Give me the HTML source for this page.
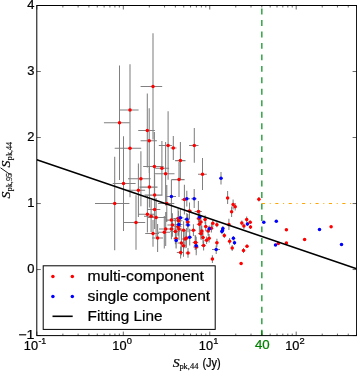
<!DOCTYPE html>
<html><head><meta charset="utf-8"><title>plot</title>
<style>html,body{margin:0;padding:0;background:#fff;}svg{display:block;will-change:transform;}text{font-family:"Liberation Sans",sans-serif;fill:#000;stroke:#000;stroke-width:0.22px;}.se{font-family:"Liberation Serif",serif;}</style></head>
<body>
<svg width="357" height="371" viewBox="0 0 357 371">
<rect x="0" y="0" width="357" height="371" fill="#fff"/>
<defs><clipPath id="cp"><rect x="36.8" y="5.5" width="319.8" height="330.1"/></clipPath></defs>
<g clip-path="url(#cp)">
<path d="M140.6 86.4H162.2M153.0 33.2V139.6M119.2 109.9H138.6M130.0 64.2V155.6M103.9 122.8H129.4M119.5 65.6V180.0M114.7 148.3H141.2M130.0 99.3V197.3M138.2 130.5H154.9M147.3 93.5V167.5M140.6 140.7H156.9M149.2 108.3V173.1M158.8 145.5H171.9M168.1 111.2V179.8M170.5 148.0H176.5M173.3 136.1V159.9M175.1 160.6H185.5M180.4 142.1V179.1M189.1 145.5H198.5M194.3 128.0V162.7M198.0 174.2H206.8M202.5 158.1V190.0M171.3 179.6H184.6M179.0 162.0V197.0M112.7 183.5H135.6M123.5 136.2V231.0M95.0 203.5H129.4M114.7 156.8V250.2M143.2 166.4H163.6M154.4 132.0V200.8M155.2 168.2H169.1M161.9 141.0V195.4M154.7 173.7H174.5M165.6 142.0V205.4M128.0 178.8H150.7M140.9 151.3V206.3M139.5 187.1H157.5M149.4 166.7V207.5M127.0 190.3H145.1M138.4 163.6V217.0M144.6 195.1H162.5M154.6 175.0V215.0M147.7 209.5H160.3M154.6 190.0V229.0M138.2 214.2H155.0M147.4 196.0V232.6M144.0 216.2H157.0M151.1 200.0V232.0M148.0 217.4H165.4M156.1 198.0V237.0M124.0 222.5H145.2M136.0 195.3V249.7M158.0 203.5H174.3M166.8 185.0V222.0M159.0 229.0H171.5M165.7 212.0V246.0M158.0 232.3H170.0M164.3 216.0V248.5M145.2 233.5H159.0M153.0 220.0V246.8M152.0 238.0H163.0M157.6 224.0V251.9M181.5 199.6H187.5M184.4 184.7V214.5M194.6 211.5H201.8M198.4 201.0V222.0M186.6 211.1H192.0M189.5 202.6V219.6M173.3 218.5H182.2M178.1 208.5V228.5M165.9 220.1H176.1M171.4 206.7V233.5M173.9 220.7H182.4M178.5 211.1V230.3M185.4 222.0H189.9M187.8 214.1V229.9M196.6 218.6H200.7M198.8 212.9V224.3M203.4 219.5H206.6M205.1 215.2V223.8M198.9 222.1H202.6M200.9 215.5V228.7M211.2 223.2H214.1M212.8 219.4V227.0M196.7 224.3H201.7M199.4 216.6V232.0M215.5 224.7H218.1M216.9 222.1V227.3M203.9 226.4H207.3M205.7 221.6V231.2M209.3 228.3H213.1M211.4 224.1V232.5M206.2 231.0H209.7M208.1 226.3V235.7M190.3 230.2H196.0M193.4 224.3V236.1M200.0 231.0H203.4M201.8 225.6V236.4M198.1 233.5H203.1M200.8 227.9V239.1M201.0 237.4H204.7M203.0 231.0V243.8M207.0 238.3H210.9M209.1 234.0V242.6M204.4 240.3H208.5M206.6 236.5V244.1M192.6 242.4H197.4M195.2 234.9V249.9M201.0 245.5H205.8M203.6 240.6V250.4M215.2 242.8H218.4M216.9 238.8V246.8M167.4 225.0H176.7M172.4 213.3V236.7M173.9 226.8H181.5M178.0 217.9V235.7M175.0 228.9H182.4M179.0 217.8V240.0M167.0 228.9H175.1M171.4 218.5V239.3M170.2 231.4H179.9M175.4 218.6V244.2M180.2 230.2H186.5M183.6 221.3V239.1M183.4 237.9H188.9M186.4 228.0V247.8M181.7 239.0H187.8M185.0 229.8V248.2M177.5 243.0H184.7M181.4 230.8V255.2M180.6 245.8H186.0M183.5 234.9V256.7M192.7 242.5H198.2M195.7 235.7V249.3M193.3 247.0H198.8M196.3 240.9V253.1M198.7 233.6H203.2M201.1 227.2V240.0M173.5 238.6H178.2M176.0 229.0V248.2M176.8 252.4H184.0M180.6 246.4V258.5M185.6 253.0H190.3M188.0 248.0V257.8M210.9 259.1H213.7M212.4 255.3V263.0M226.5 198.0H228.5M227.6 191.1V204.0M232.1 204.5H234.0M233.1 199.5V209.5M234.2 206.7H236.1M235.2 203.0V210.5M230.4 211.8H232.6M231.6 206.5V217.1M258.1 199.2H259.6M258.9 197.0V201.4M227.5 224.4H230.1M228.9 218.8V230.0M245.9 219.5H247.4M246.7 216.5V222.5M240.9 223.0H242.6M241.8 220.5V225.5M249.3 222.3H251.0M250.2 220.5V224.0M242.9 226.1H244.8M243.9 223.5V229.0M249.8 226.9H251.1M250.5 225.0V229.0M223.0 235.4H225.4M224.3 233.0V238.0M228.6 241.3H230.5M229.6 238.0V244.6M231.1 247.9H233.2M232.2 245.0V251.0M242.5 250.4H244.3M243.5 248.0V253.0M246.2 246.2H247.7M247.0 244.5V248.0M240.0 263.4H242.0M285.4 229.7H287.2M303.7 239.6H305.4M285.7 242.9H287.0M277.5 243.4H279.0M330.2 226.7H331.8M165.9 196.4H176.0M171.4 180.0V212.8M183.5 198.7H190.0M186.8 190.8V206.6M191.3 198.7H196.7M194.2 189.1V208.1M219.5 178.2H222.5M221.0 172.1V184.4M176.7 217.8H183.5M180.4 208.8V226.8M183.8 219.2H189.4M186.8 212.9V225.5M197.2 217.0H201.8M199.7 210.3V223.7M174.5 224.4H182.5M178.8 215.7V233.1M185.2 224.9H190.4M188.0 217.5V232.3M207.6 228.8H210.7M209.3 225.4V232.2M187.0 237.2H192.0M189.7 228.8V245.6M174.5 240.6H177.9M176.2 232.7V248.5M193.9 245.8H198.2M196.2 237.0V255.2M212.0 249.4H220.0M216.2 245.5V253.9M221.1 230.5H223.7M222.5 228.0V233.0M221.4 228.6H224.1M222.9 226.0V231.0M220.5 231.4H223.1M221.9 229.0V234.0M232.4 238.3H234.3M233.4 236.0V240.5M233.5 242.7H235.3M234.5 240.5V245.0M246.5 224.0H248.2M247.4 222.0V226.0M262.8 222.3H264.6M275.4 221.3H277.0M274.5 244.9H276.3M318.5 229.6H320.3M340.6 244.4H342.3" stroke="#808080" stroke-width="1.05" fill="none"/>
<g fill="#ff0000"><circle cx="153.0" cy="86.4" r="1.75"/><circle cx="130.0" cy="109.9" r="1.75"/><circle cx="119.5" cy="122.8" r="1.75"/><circle cx="130.0" cy="148.3" r="1.75"/><circle cx="147.3" cy="130.5" r="1.75"/><circle cx="149.2" cy="140.7" r="1.75"/><circle cx="168.1" cy="145.5" r="1.75"/><circle cx="173.3" cy="148.0" r="1.75"/><circle cx="180.4" cy="160.6" r="1.75"/><circle cx="194.3" cy="145.5" r="1.75"/><circle cx="202.5" cy="174.2" r="1.75"/><circle cx="179.0" cy="179.6" r="1.75"/><circle cx="123.5" cy="183.5" r="1.75"/><circle cx="114.7" cy="203.5" r="1.75"/><circle cx="154.4" cy="166.4" r="1.75"/><circle cx="161.9" cy="168.2" r="1.75"/><circle cx="165.6" cy="173.7" r="1.75"/><circle cx="140.9" cy="178.8" r="1.75"/><circle cx="149.4" cy="187.1" r="1.75"/><circle cx="138.4" cy="190.3" r="1.75"/><circle cx="154.6" cy="195.1" r="1.75"/><circle cx="154.6" cy="209.5" r="1.75"/><circle cx="147.4" cy="214.2" r="1.75"/><circle cx="151.1" cy="216.2" r="1.75"/><circle cx="156.1" cy="217.4" r="1.75"/><circle cx="136.0" cy="222.5" r="1.75"/><circle cx="166.8" cy="203.5" r="1.75"/><circle cx="165.7" cy="229.0" r="1.75"/><circle cx="164.3" cy="232.3" r="1.75"/><circle cx="153.0" cy="233.5" r="1.75"/><circle cx="157.6" cy="238.0" r="1.75"/><circle cx="184.4" cy="199.6" r="1.75"/><circle cx="198.4" cy="211.5" r="1.75"/><circle cx="189.5" cy="211.1" r="1.75"/><circle cx="178.1" cy="218.5" r="1.75"/><circle cx="171.4" cy="220.1" r="1.75"/><circle cx="178.5" cy="220.7" r="1.75"/><circle cx="187.8" cy="222.0" r="1.75"/><circle cx="198.8" cy="218.6" r="1.75"/><circle cx="205.1" cy="219.5" r="1.75"/><circle cx="200.9" cy="222.1" r="1.75"/><circle cx="212.8" cy="223.2" r="1.75"/><circle cx="199.4" cy="224.3" r="1.75"/><circle cx="216.9" cy="224.7" r="1.75"/><circle cx="205.7" cy="226.4" r="1.75"/><circle cx="211.4" cy="228.3" r="1.75"/><circle cx="208.1" cy="231.0" r="1.75"/><circle cx="193.4" cy="230.2" r="1.75"/><circle cx="201.8" cy="231.0" r="1.75"/><circle cx="200.8" cy="233.5" r="1.75"/><circle cx="203.0" cy="237.4" r="1.75"/><circle cx="209.1" cy="238.3" r="1.75"/><circle cx="206.6" cy="240.3" r="1.75"/><circle cx="195.2" cy="242.4" r="1.75"/><circle cx="203.6" cy="245.5" r="1.75"/><circle cx="216.9" cy="242.8" r="1.75"/><circle cx="172.4" cy="225.0" r="1.75"/><circle cx="178.0" cy="226.8" r="1.75"/><circle cx="179.0" cy="228.9" r="1.75"/><circle cx="171.4" cy="228.9" r="1.75"/><circle cx="175.4" cy="231.4" r="1.75"/><circle cx="183.6" cy="230.2" r="1.75"/><circle cx="186.4" cy="237.9" r="1.75"/><circle cx="185.0" cy="239.0" r="1.75"/><circle cx="181.4" cy="243.0" r="1.75"/><circle cx="183.5" cy="245.8" r="1.75"/><circle cx="195.7" cy="242.5" r="1.75"/><circle cx="196.3" cy="247.0" r="1.75"/><circle cx="201.1" cy="233.6" r="1.75"/><circle cx="176.0" cy="238.6" r="1.75"/><circle cx="180.6" cy="252.4" r="1.75"/><circle cx="188.0" cy="253.0" r="1.75"/><circle cx="212.4" cy="259.1" r="1.75"/><circle cx="227.6" cy="198.0" r="1.75"/><circle cx="233.1" cy="204.5" r="1.75"/><circle cx="235.2" cy="206.7" r="1.75"/><circle cx="231.6" cy="211.8" r="1.75"/><circle cx="258.9" cy="199.2" r="1.75"/><circle cx="228.9" cy="224.4" r="1.75"/><circle cx="246.7" cy="219.5" r="1.75"/><circle cx="241.8" cy="223.0" r="1.75"/><circle cx="250.2" cy="222.3" r="1.75"/><circle cx="243.9" cy="226.1" r="1.75"/><circle cx="250.5" cy="226.9" r="1.75"/><circle cx="224.3" cy="235.4" r="1.75"/><circle cx="229.6" cy="241.3" r="1.75"/><circle cx="232.2" cy="247.9" r="1.75"/><circle cx="243.5" cy="250.4" r="1.75"/><circle cx="247.0" cy="246.2" r="1.75"/><circle cx="241.1" cy="263.4" r="1.75"/><circle cx="286.4" cy="229.7" r="1.75"/><circle cx="304.6" cy="239.6" r="1.75"/><circle cx="286.4" cy="242.9" r="1.75"/><circle cx="278.3" cy="243.4" r="1.75"/><circle cx="331.1" cy="226.7" r="1.75"/></g>
<g fill="#0000ff"><circle cx="171.4" cy="196.4" r="1.75"/><circle cx="186.8" cy="198.7" r="1.75"/><circle cx="194.2" cy="198.7" r="1.75"/><circle cx="221.0" cy="178.2" r="1.75"/><circle cx="180.4" cy="217.8" r="1.75"/><circle cx="186.8" cy="219.2" r="1.75"/><circle cx="199.7" cy="217.0" r="1.75"/><circle cx="178.8" cy="224.4" r="1.75"/><circle cx="188.0" cy="224.9" r="1.75"/><circle cx="209.3" cy="228.8" r="1.75"/><circle cx="189.7" cy="237.2" r="1.75"/><circle cx="176.2" cy="240.6" r="1.75"/><circle cx="196.2" cy="245.8" r="1.75"/><circle cx="216.2" cy="249.4" r="1.75"/><circle cx="222.5" cy="230.5" r="1.75"/><circle cx="222.9" cy="228.6" r="1.75"/><circle cx="221.9" cy="231.4" r="1.75"/><circle cx="233.4" cy="238.3" r="1.75"/><circle cx="234.5" cy="242.7" r="1.75"/><circle cx="247.4" cy="224.0" r="1.75"/><circle cx="263.8" cy="222.3" r="1.75"/><circle cx="276.3" cy="221.3" r="1.75"/><circle cx="275.5" cy="244.9" r="1.75"/><circle cx="319.5" cy="229.6" r="1.75"/><circle cx="341.5" cy="244.4" r="1.75"/></g>
<line x1="36.8" y1="159.7" x2="356.6" y2="268.7" stroke="#000" stroke-width="1.45"/>
<line x1="261.85" y1="335.6" x2="261.85" y2="5.5" stroke="#0a9020" stroke-width="1.25" stroke-dasharray="5.9 5.57"/>
<line x1="261.9" y1="203.5" x2="356.6" y2="203.5" stroke="#ffa500" stroke-width="1" stroke-dasharray="3.1 4.7 1 4.6"/>
</g>
<path d="M36.85 335.6v-4M36.85 5.5v4M62.87 335.6v-2M62.87 5.5v2M78.10 335.6v-2M78.10 5.5v2M88.90 335.6v-2M88.90 5.5v2M97.28 335.6v-2M97.28 5.5v2M104.12 335.6v-2M104.12 5.5v2M109.91 335.6v-2M109.91 5.5v2M114.92 335.6v-2M114.92 5.5v2M119.34 335.6v-2M119.34 5.5v2M123.30 335.6v-4M123.30 5.5v4M149.32 335.6v-2M149.32 5.5v2M164.55 335.6v-2M164.55 5.5v2M175.35 335.6v-2M175.35 5.5v2M183.73 335.6v-2M183.73 5.5v2M190.57 335.6v-2M190.57 5.5v2M196.36 335.6v-2M196.36 5.5v2M201.37 335.6v-2M201.37 5.5v2M205.79 335.6v-2M205.79 5.5v2M209.75 335.6v-4M209.75 5.5v4M235.77 335.6v-2M235.77 5.5v2M251.00 335.6v-2M251.00 5.5v2M261.80 335.6v-2M261.80 5.5v2M270.18 335.6v-2M270.18 5.5v2M277.02 335.6v-2M277.02 5.5v2M282.81 335.6v-2M282.81 5.5v2M287.82 335.6v-2M287.82 5.5v2M292.24 335.6v-2M292.24 5.5v2M296.20 335.6v-4M296.20 5.5v4M322.22 335.6v-2M322.22 5.5v2M337.45 335.6v-2M337.45 5.5v2M348.25 335.6v-2M348.25 5.5v2M356.63 335.6v-2M356.63 5.5v2M36.8 335.56h4M356.6 335.56h-4M36.8 269.55h4M356.6 269.55h-4M36.8 203.54h4M356.6 203.54h-4M36.8 137.53h4M356.6 137.53h-4M36.8 71.52h4M356.6 71.52h-4M36.8 5.51h4M356.6 5.51h-4" stroke="#000" stroke-width="0.6" fill="none"/>
<line x1="261.85" y1="335.6" x2="261.85" y2="330.8" stroke="#008000" stroke-width="1.1"/>
<rect x="36.8" y="5.5" width="319.8" height="330.1" fill="none" stroke="#000" stroke-width="1"/>
<rect x="43.2" y="265.8" width="172" height="63.6" fill="#fff" stroke="#000" stroke-width="1"/>
<g fill="#ff0000"><circle cx="52.9" cy="276.5" r="1.75"/><circle cx="72.3" cy="276.5" r="1.75"/></g>
<g fill="#0000ff"><circle cx="52.9" cy="296.4" r="1.75"/><circle cx="72.3" cy="296.4" r="1.75"/></g>
<line x1="52.5" y1="316.3" x2="72.7" y2="316.3" stroke="#000" stroke-width="1.6"/>
<text x="87.6" y="281.3" font-size="14.4" textLength="116.4" lengthAdjust="spacingAndGlyphs">multi-component</text>
<text x="87.6" y="300.9" font-size="14.4" textLength="122.6" lengthAdjust="spacingAndGlyphs">single component</text>
<text x="87.6" y="320.8" font-size="14.4" textLength="75" lengthAdjust="spacingAndGlyphs">Fitting Line</text>
<text x="27.2" y="9.0" font-size="12.2" textLength="7.2" lengthAdjust="spacingAndGlyphs">4</text>
<text x="27.2" y="75.0" font-size="12.2" textLength="7.2" lengthAdjust="spacingAndGlyphs">3</text>
<text x="27.2" y="141.0" font-size="12.2" textLength="7.2" lengthAdjust="spacingAndGlyphs">2</text>
<text x="27.2" y="207.0" font-size="12.2" textLength="7.2" lengthAdjust="spacingAndGlyphs">1</text>
<text x="27.2" y="273.1" font-size="12.2" textLength="7.2" lengthAdjust="spacingAndGlyphs">0</text>
<text x="18.2" y="339.1" font-size="12.2" textLength="16.2" lengthAdjust="spacingAndGlyphs">−1</text>
<text x="23.8" y="350.3" font-size="12.2" textLength="14.2" lengthAdjust="spacingAndGlyphs">10</text><text x="38.4" y="344.0" font-size="8.8">-1</text>
<text x="112.3" y="350.3" font-size="12.2" textLength="14.2" lengthAdjust="spacingAndGlyphs">10</text><text x="126.7" y="344.0" font-size="8.8" textLength="5.2" lengthAdjust="spacingAndGlyphs">0</text>
<text x="198.8" y="350.3" font-size="12.2" textLength="14.2" lengthAdjust="spacingAndGlyphs">10</text><text x="213.2" y="344.0" font-size="8.8" textLength="5.2" lengthAdjust="spacingAndGlyphs">1</text>
<text x="285.2" y="350.3" font-size="12.2" textLength="14.2" lengthAdjust="spacingAndGlyphs">10</text><text x="299.6" y="344.0" font-size="8.8" textLength="5.2" lengthAdjust="spacingAndGlyphs">2</text>
<text x="254.9" y="348.9" font-size="12.4" textLength="14.8" lengthAdjust="spacingAndGlyphs" style="fill:#008000;stroke:#008000">40</text>
<text class="se" x="172.8" y="366.6" font-size="12.6" font-style="italic" textLength="6.9" lengthAdjust="spacingAndGlyphs">S</text>
<text class="se" x="179.4" y="368.9" font-size="7.7" style="stroke-width:0.15px" textLength="19" lengthAdjust="spacingAndGlyphs">pk,44</text>
<text x="202.4" y="367.0" font-size="12.2" textLength="18.4" lengthAdjust="spacingAndGlyphs">(Jy)</text>
<g transform="translate(9.5,198.6) rotate(-90)"><text class="se" x="0" y="0" font-size="12.6" font-style="italic" textLength="6.9" lengthAdjust="spacingAndGlyphs">S</text><text class="se" x="7.3" y="2.4" font-size="7.7" style="stroke-width:0.15px" textLength="18.4" lengthAdjust="spacingAndGlyphs">pk,95</text><line x1="23.4" y1="1.6" x2="30.8" y2="-9.0" stroke="#000" stroke-width="0.9"/><text class="se" x="31.0" y="0" font-size="12.6" font-style="italic" textLength="6.9" lengthAdjust="spacingAndGlyphs">S</text><text class="se" x="38.4" y="2.4" font-size="7.7" style="stroke-width:0.15px" textLength="18.4" lengthAdjust="spacingAndGlyphs">pk,44</text></g>
</svg></body></html>
